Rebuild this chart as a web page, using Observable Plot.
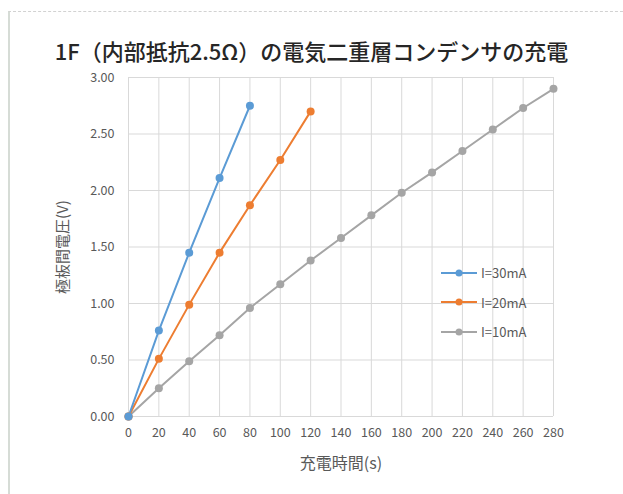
<!DOCTYPE html>
<html>
<head>
<meta charset="utf-8">
<script src="https://cdn.jsdelivr.net/npm/d3@7"></script>
<script src="https://cdn.jsdelivr.net/npm/@observablehq/plot@0.6"></script>
<style>
  html, body { margin: 0; padding: 0; background: #fff; }
  #wrap { position: relative; width: 623px; height: 494px; overflow: hidden; font-family: "Noto Sans CJK JP", sans-serif; }
  #border { position: absolute; left: 8px; top: 11px; right: -5px; bottom: -5px; border-left: 2px solid #d6dcd6; border-top: 1px dashed #d2d2d2; }
  #title { position: absolute; left: 0; top: 0; width: 623px; height: 65px; line-height: 100px; text-align: center; font-size: 22px; color: #262626; font-weight: 500; }
  #chart { position: absolute; left: 0; top: 65px; }
  #legend { position: absolute; left: 440px; top: 258px; font-size: 13px; color: #595959; }
  .row { height: 29.5px; display: flex; align-items: center; }
  .row svg { margin-right: 3px; }
</style>
</head>
<body>
<div id="wrap">
  <div id="border"></div>
  <div id="title">1F（内部抵抗2.5Ω）の電気二重層コンデンサの充電</div>
  <div id="chart"></div>
  <div id="legend"></div>
</div>
<script>
const seriesNames = ["I=30mA", "I=20mA", "I=10mA"];
const seriesColors = ["#5B9BD5", "#ED7D31", "#A5A5A5"];
const time30 = [0, 20, 40, 60, 80];
const volt30 = [0, 0.76, 1.45, 2.11, 2.75];
const time20 = [0, 20, 40, 60, 80, 100, 120];
const volt20 = [0, 0.51, 0.99, 1.45, 1.87, 2.27, 2.70];
const time10 = [0, 20, 40, 60, 80, 100, 120, 140, 160, 180, 200, 220, 240, 260, 280];
const volt10 = [0, 0.25, 0.49, 0.72, 0.96, 1.17, 1.38, 1.58, 1.78, 1.98, 2.16, 2.35, 2.54, 2.73, 2.90];
const xTicks = [0, 20, 40, 60, 80, 100, 120, 140, 160, 180, 200, 220, 240, 260, 280];
const yTicks = [0, 0.5, 1.0, 1.5, 2.0, 2.5, 3.0];
const xLabel = "充電時間(s)";
const yLabel = "極板間電圧(V)";

const mk = (t, v, s) => t.map((x, i) => ({t: x, v: v[i], s}));
const data = [
  ...mk(time10, volt10, seriesNames[2]),
  ...mk(time20, volt20, seriesNames[1]),
  ...mk(time30, volt30, seriesNames[0])
];

const chart = Plot.plot({
  width: 623,
  height: 429,
  marginLeft: 128,
  marginRight: 70,
  marginTop: 12,
  marginBottom: 78,
  style: {fontFamily: "'Noto Sans CJK JP', sans-serif", fontSize: "12px", color: "#595959", background: "transparent"},
  x: {domain: [0, 280], ticks: xTicks},
  y: {domain: [0, 3], ticks: yTicks},
  color: {domain: seriesNames, range: seriesColors},
  marks: [
    Plot.gridX(xTicks, {stroke: "#d9d9d9", strokeOpacity: 1, strokeWidth: 1}),
    Plot.gridY(yTicks, {stroke: "#d9d9d9", strokeOpacity: 1, strokeWidth: 1}),
    Plot.axisX(xTicks, {tickSize: 0, tickPadding: 12, fontSize: 12.5, fill: "#595959", label: null}),
    Plot.axisX({tickSize: 0, ticks: [], fontSize: 16, fill: "#595959", label: xLabel, labelAnchor: "center", labelArrow: "none", labelOffset: 52}),
    Plot.axisY(yTicks, {tickSize: 0, tickPadding: 14, tickFormat: d3.format(".2f"), fontSize: 12.5, fill: "#595959", label: null}),
    Plot.axisY({tickSize: 0, ticks: [], fontSize: 15, fill: "#595959", label: yLabel, labelAnchor: "center", labelArrow: "none", labelOffset: 71}),
    Plot.line(data, {x: "t", y: "v", z: "s", stroke: "s", strokeWidth: 2}),
    Plot.dot(data, {x: "t", y: "v", fill: "s", r: 4})
  ]
});
document.getElementById("chart").appendChild(chart);

const legend = document.getElementById("legend");
seriesNames.forEach((n, i) => {
  const row = document.createElement("div");
  row.className = "row";
  row.innerHTML = `<svg width="38" height="10"><line x1="1" y1="5" x2="37" y2="5" stroke="${seriesColors[i]}" stroke-width="2"/><circle cx="19" cy="5" r="3.5" fill="${seriesColors[i]}"/></svg><span>${n}</span>`;
  legend.appendChild(row);
});
</script>
</body>
</html>
